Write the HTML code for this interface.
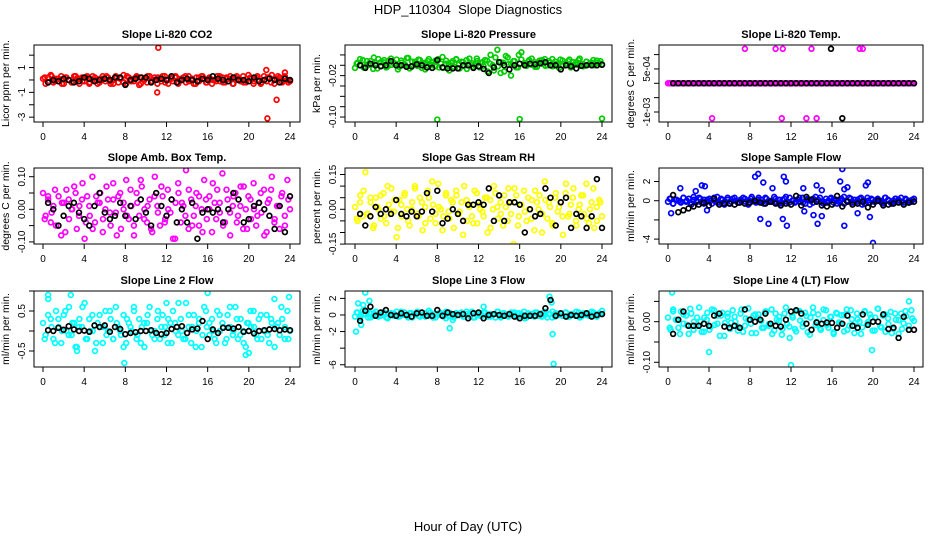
<!DOCTYPE html>
<html><head><meta charset="utf-8"><style>
html,body{margin:0;padding:0;background:#fff;}
svg{display:block;font-family:"Liberation Sans",Arial,sans-serif;}
</style></head><body>
<svg id="chart" width="936" height="540" viewBox="0 0 936 540" xmlns="http://www.w3.org/2000/svg">
<rect x="0" y="0" width="936" height="540" fill="#fff"/>
<text x="468" y="14" font-size="13" text-anchor="middle">HDP_110304&#160; Slope Diagnostics</text>
<text x="468" y="531" font-size="13" text-anchor="middle">Hour of Day (UTC)</text>
</svg>
<script>
// ---- data (hourly slopes) ----
const xTicks = [0,4,8,12,16,20,24];
const co2Color = [0.1,-0.3,0.2,0.4,-0.2,0.1,-0.1,0.3,-0.3,0.2,0,-0.2,0.3,0.1,-0.3,0.2,-0.1,0.3,-0.2,0,0.2,-0.3,0.1,0.3,-0.1,0.2,-0.3,0,0.3,-0.2,0.1,0.4,-0.3,0.2,-0.1,0.1,0.3,-0.4,0.2,0,-0.2,0.3,-0.1,0.2,-0.3,0.1,0.3,-0.2,0,0.2,-0.1,0.3,-0.3,0.1,0.2,-0.2,0.3,0,-0.3,0.2,-0.1,0.3,0.1,-0.2,0.2,-0.3,0,0.3,-0.1,0.2,-0.2,0.1,0.3,-0.3,0.2,0,-0.1,0.3,-0.2,0.4,0.1,-0.3,0.2,0,-0.2,0.3,-0.1,0.2,0.4,-0.3,0.1,0.2,-0.2,0.3,0,-0.1];
const co2Color2 = [0.2,-0.2,0.3,-0.1,0.1,-0.3,0.2,0,-0.2,0.3,0.1,-0.1,0.2,-0.3,0.3,0,-0.2,0.1,0.3,-0.1,-0.3,0.2,0.1,-0.2,0.3,0,-0.1,0.2,-0.3,0.1,0.3,-0.2,0,0.2,-0.1,0.3,-0.3,0.1,0.2,-0.2,0,0.3,-0.1,0.1,-0.3,0.2,0.3,-0.2,0.1,0,-0.1,0.3,-0.2,0.2,0.1,-0.3,0.3,0,-0.2,0.1,0.2,-0.1,0.3,-0.3,0,0.2,-0.2,0.1,0.3,-0.1,0.2,-0.2];
const co2OutHours = [11.2,11.1,21.8,22.7,21.7,23.5];
const co2OutValues = [2.6,-1.0,-3.1,-1.6,0.8,0.6];
const co2Black = [-0.2,0,-0.1,0.1,0,-0.2,-0.1,0.2,0.1,-0.1,0,0.1,0,0.2,0.2,-0.4,0,0.1,0.2,0.2,-0.2,0,0.1,0,0.3,-0.2,0,0.1,0,-0.1,0.1,0,0.3,0.1,0,-0.1,0.2,0,0,-0.1,0.2,-0.1,0,0.1,0,-0.2,0.1,0];
const co2Ticks = [2,1,0,-1,-2,-3];
const co2TickLabels = ["","1","","-1","","-3"];

const presColor = [-0.005,0.005,0,0.01,-0.002,0.002,0.008,-0.007,0.004,0.012,-0.001,0.006,-0.004,0.009,0.001,0.003,0.011,-0.003,0.005,0,0.014,-0.006,0.007,0.002,-0.001,0.01,0.004,-0.008,0.008,0.001,0.006,-0.002,0.012,0.003,-0.005,0.009,0,0.005,-0.003,0.011,0.002,0.007,-0.001,-0.007,0.013,0.004,0.001,0.008,-0.004,0.006,0.01,-0.012,0.003,0,0.015,-0.002,-0.015,0.005,0.018,0.002,-0.02,0.008,-0.004,0.02,0.025,0.004,-0.001,0.01,0.001,0.006,-0.003,0.009,0.003,0.012,0,0.005,-0.002,0.007,0.002,0.011,-0.001,0.004,0.008,-0.004,0.006,0.001,0.01,0.003,-0.001,0.007,0.002,0.005,0,0.009,0.004,0.002];
const presColor2 = [0.003,0.012,-0.004,0.008,0.001,0.015,-0.006,0.006,0.010,-0.002,0.013,0.004,-0.008,0.009,0.002,0.014,-0.003,0.007,0.011,-0.005,0.005,0.012,0,0.009,-0.004,0.016,0.003,-0.01,0.008,0.012,-0.006,0.006,0.01,0.002,-0.003,0.013,0.005,-0.002,0.009,0.02,-0.01,0.03,0.006,-0.012,0.015,0.003,0.008,-0.004,0.011,0.001,0.007,0.013,-0.003,0.005,0.01,-0.001,0.008,0.012,0.002,-0.005,0.009,0.004,0.011,0,0.006,0.013,-0.002,0.007,0.003,0.01,0.005,0.008];
const presOutHours = [8,16,24];
const presOutValues = [-0.105,-0.104,-0.103];
const presBlack = [0,-0.005,0.003,0,-0.002,0,0.008,0,0,-0.003,-0.002,0.002,0,-0.004,-0.005,0.01,-0.004,-0.006,-0.006,-0.006,0,0,-0.005,-0.002,-0.007,-0.015,-0.004,0.006,0,-0.008,0,0.003,0,0.003,0.002,0.004,0.006,0,0,-0.008,0,-0.002,-0.006,-0.001,0,0,0,0.001];
const presTicks = [0.02,0,-0.02,-0.04,-0.06,-0.08,-0.10];
const presTickLabels = ["","","-0.02","","","","-0.10"];

const tempColor = [0,0,0,0,0,0,0,0,0,0,0,0,0,0,0,0,0,0,0,0,0,0,0,0,0,0,0,0,0,0,0,0,0,0,0,0,0,0,0,0,0,0,0,0,0,0,0,0,0,0,0,0,0,0,0,0,0,0,0,0,0,0,0,0,0,0,0,0,0,0,0,0,0,0,0,0,0,0,0,0,0,0,0,0,0,0,0,0,0,0,0,0,0,0,0,0];
const tempColor2 = [0,0,0,0,0,0,0,0,0,0,0,0,0,0,0,0,0,0,0,0,0,0,0,0,0,0,0,0,0,0,0,0,0,0,0,0,0,0,0,0,0,0,0,0,0,0,0,0,0,0,0,0,0,0,0,0,0,0,0,0,0,0,0,0,0,0,0,0,0,0,0,0];
const tempOutHours = [7.5,10.5,11.2,14,18.7,19,4.3,11.1,13.5,14.5];
const tempOutValues = [0.0012,0.0012,0.0012,0.0012,0.0012,0.0012,-0.00122,-0.00122,-0.00122,-0.00122];
const tempBlack = [0,0,0,0,0,0,0,0,0,0,0,0,0,0,0,0,0,0,0,0,0,0,0,0,0,0,0,0,0,0,0,0,0,0,0,0,0,0,0,0,0,0,0,0,0,0,0,0];
const tempBlackOutHours = [15.9,17];
const tempBlackOutValues = [0.0012,-0.00122];
const tempTicks = [0.001,0.0005,0,-0.0005,-0.001];
const tempTickLabels = ["","5e-04","","","-1e-03"];

const ambColor = [0.05,-0.02,0.03,-0.04,0.01,-0.05,0.04,-0.08,0.02,0.06,-0.03,0,0.07,-0.06,0.01,0.03,-0.09,0.04,-0.02,0.1,-0.04,0.02,0.05,-0.07,0,0.03,-0.05,0.08,-0.01,0.04,-0.06,0.02,0.09,-0.03,0.01,-0.08,0.05,-0.02,0.07,0,-0.04,0.03,-0.07,0.1,0.01,-0.05,0.04,-0.03,0.06,-0.01,-0.09,0.02,0.08,-0.04,0.01,0.12,-0.06,0.03,-0.02,0.05,-0.05,0,0.09,-0.03,0.04,-0.07,0.02,0.06,-0.01,0.11,-0.04,0.03,-0.08,0.01,0.05,-0.02,0.07,-0.06,0,0.04,-0.03,0.08,-0.05,0.02,-0.01,0.06,-0.07,0.03,0.1,-0.04,0.01,-0.06,0.05,-0.02,0.09,0];
const ambColor2 = [-0.03,0.04,-0.01,0.06,-0.05,0.02,-0.07,0.03,0,0.05,-0.02,0.08,-0.04,0.01,-0.06,0.04,0.02,-0.03,0.07,-0.01,0.03,-0.08,0.05,0,-0.02,0.06,-0.05,0.02,0.09,-0.03,0.01,-0.06,0.04,-0.01,0.07,-0.04,0,0.03,-0.09,0.05,0.02,-0.02,0.06,-0.05,0.01,0.04,-0.07,0.03,0,0.08,-0.03,0.02,-0.05,0.06,-0.01,0.04,-0.04,0.01,0.07,-0.06,0.03,0,-0.02,0.05,-0.08,0.02,0.06,-0.03,0.01,0.04,-0.05,0.03];
const ambOutHours = [];
const ambOutValues = [];
const ambBlack = [0.02,0,-0.05,-0.02,0.01,0.02,-0.01,-0.03,-0.05,0.01,0.05,-0.01,-0.03,-0.02,0.02,-0.02,0.01,-0.03,0.03,-0.01,-0.05,0.05,0.01,-0.02,0.03,-0.04,0,-0.04,0.02,-0.09,-0.01,0,-0.01,0,-0.04,0,0.05,0.03,-0.04,-0.03,0.01,0.02,0,-0.02,-0.06,0.01,-0.07,0.04];
const ambTicks = [0.10,0.05,0,-0.05,-0.10];
const ambTickLabels = ["0.10","","0.00","","-0.10"];

const rhColor = [0.01,-0.05,0.06,-0.03,0.16,-0.02,0.03,-0.08,0.05,0,-0.04,0.07,-0.06,0.02,0.09,-0.01,-0.12,0.04,-0.03,0.06,0,-0.07,0.03,0.1,-0.02,0.05,-0.09,0.01,0.08,-0.04,0.02,-0.06,0.11,0,-0.03,0.07,-0.01,0.04,-0.08,0.06,-0.02,0.03,0.1,-0.05,0.01,-0.03,0.08,-0.06,0.02,-0.01,0.05,-0.1,0.04,0,0.07,-0.04,0.03,-0.07,0.01,0.09,-0.02,-0.15,0.06,-0.03,0.02,0.08,-0.05,0,0.04,-0.09,0.03,0.06,-0.02,0.12,-0.04,0.01,-0.07,0.05,-0.01,0.03,-0.11,0.07,-0.03,0.02,0.09,-0.05,0,0.06,-0.02,0.11,-0.06,0.03,-0.08,0.01,0.04,-0.03];
const rhColor2 = [-0.04,0.03,0.08,-0.02,0.05,-0.07,0.01,0.06,-0.03,0.1,-0.01,0.04,-0.08,0.02,0.07,-0.05,0,0.09,-0.03,0.03,-0.06,0.05,0.12,-0.02,0.01,-0.09,0.06,-0.04,0.03,0.08,-0.01,-0.11,0.04,0.02,-0.06,0.07,0,-0.03,0.05,-0.08,0.1,0.01,-0.02,0.06,-0.05,0.03,0.09,-0.07,0.02,-0.01,0.05,-0.04,0.08,0,-0.1,0.04,0.03,-0.06,0.07,0.01,-0.03,0.11,-0.02,0.05,-0.07,0.02,0.06,-0.04,0,0.09,-0.05,0.03];
const rhOutHours = [];
const rhOutValues = [];
const rhBlack = [-0.02,-0.07,-0.03,0.01,-0.02,0,-0.02,0.04,-0.02,-0.03,-0.01,-0.03,-0.01,0.07,-0.01,0.08,-0.06,-0.04,0,-0.02,-0.05,0.02,0.02,0.03,0.02,0.09,-0.05,0.06,-0.05,0.03,0.03,0.02,-0.1,0,-0.03,-0.02,0.09,0.05,-0.07,0.03,0.05,-0.08,-0.02,-0.03,-0.08,-0.03,0.13,-0.08];
const rhTicks = [0.15,0.10,0.05,0,-0.05,-0.10,-0.15];
const rhTickLabels = ["0.15","","","0.00","","","-0.15"];

const flowColor = [-0.1,0.2,-0.3,0.1,0,-0.2,0.3,-0.1,0.2,-0.4,0.1,0,0.3,-0.2,0.1,-0.1,0.2,-0.3,0,0.4,-0.2,0.1,-0.1,0.3,-0.3,0.2,0,-0.2,0.1,0.3,-0.1,-0.4,0.2,0,-0.2,0.3,0.1,-0.3,0.2,-0.1,0,0.4,-0.2,0.1,-0.3,0.2,-0.1,0.3,0,-0.2,0.1,-0.1,0.3,-0.3,0.2,0,-0.2,0.4,0.1,-0.1,-0.3,0.2,0,0.3,-0.2,0.1,-0.1,0.2,-0.3,0,0.3,-0.2,0.1,-0.1,0.2,-0.4,0,0.3,-0.2,0.1,-0.1,0.2,0,-0.3,0.3,0.1,-0.2,0,0.2,-0.1,0.3,-0.2,0.1,0,-0.1,0.2];
const flowColor2 = [0.2,-0.3,0.1,-0.1,0.3,0,-0.2,0.4,-0.1,0.2,-0.3,0.1,0,0.3,-0.2,0.2,-0.4,0.1,-0.1,0.3,-0.2,0,0.2,-0.3,0.4,-0.1,0.1,-0.2,0.3,0,-0.1,0.2,-0.3,0.1,0.4,-0.2,0,-0.1,0.3,-0.2,0.1,-0.4,0.2,0,0.3,-0.1,-0.2,0.2,0.1,-0.3,0,0.4,-0.1,0.2,-0.2,0.1,0.3,-0.3,0,0.2,-0.1,0.1,-0.2,0.3,0,-0.3,0.2,0.1,-0.1,0.2,-0.2,0.1];
const flowOutHours = [0.3,1.2,2.7,3.3,3.6,3.8,8.5,8.8,9.0,9.3,9.8,10.2,11.3,11.5,11.6,11.2,13.2,13.3,14.5,14.6,14.2,15.0,15.0,16.8,17.0,17.2,17.2,17.5,19.3,19.5,19.7,20.0,18.5];
const flowOutValues = [-1.3,1.3,1.0,1.6,1.5,-1.0,2.5,2.8,-1.9,1.9,-2.4,1.3,2.5,2.0,-2.6,-1.9,1.3,-1.1,1.6,-2.4,-1.5,1.1,-1.6,2.0,3.3,-2.6,1.2,1.4,1.6,1.9,-1.7,-4.4,-1.3];
const flowBlack = [0.6,-1.2,-1.0,-0.8,-0.6,-0.4,-0.2,-0.5,0.2,-0.4,-0.3,-0.3,-0.4,-0.2,-0.3,-0.2,0,-0.2,-0.3,-0.1,-0.3,-0.5,-0.3,-0.4,0.5,-0.5,0.4,0.1,-0.1,-0.5,-0.6,-0.4,0.5,-0.6,-0.1,-0.4,-0.3,-0.1,-0.7,-0.4,0,-0.5,-0.4,-0.3,-0.2,-0.4,-0.2,-0.1];
const flowTicks = [2,0,-2,-4];
const flowTickLabels = ["2","0","","-4"];

const l2Color = [0.2,-0.1,0.8,0.3,-0.2,0.5,0.1,-0.3,0.4,0,0.6,-0.1,0.2,-0.4,0.3,0.1,0.7,-0.2,0,0.4,-0.5,0.2,0.1,-0.3,0.5,0,0.3,-0.2,0.6,0.1,-0.1,0.4,-0.3,0.2,0,0.5,-0.2,0.3,0.1,-0.4,0.2,0.6,-0.1,0,0.3,-0.2,0.4,0.1,-0.3,0.2,0.5,0,-0.1,0.3,-0.2,0.7,0.1,-0.3,0.4,0,0.2,-0.4,0.6,0.1,-0.1,0.3,-0.2,0.5,0,0.2,-0.3,0.4,0.1,-0.1,0.6,-0.2,0.3,0,-0.4,0.2,0.1,0.5,-0.1,0.3,-0.2,0,0.4,-0.3,0.2,0.8,0.1,-0.1,0.3,-0.2,0.5,0];
const l2Color2 = [-0.2,0.4,0.1,-0.3,0.3,0,0.5,-0.1,0.2,-0.4,0.1,0.6,-0.2,0.3,0,-0.3,0.4,0.1,-0.1,0.5,-0.2,0.2,0,-0.4,0.3,0.1,0.6,-0.1,-0.3,0.2,0.4,0,-0.2,0.5,0.1,-0.1,0.3,-0.3,0.2,0.7,0,-0.2,0.4,0.1,-0.4,0.3,-0.1,0.5,0.2,0,-0.3,0.4,0.1,-0.2,0.6,0,0.3,-0.1,-0.3,0.2,0.5,0.1,-0.2,0.4,0,-0.1,0.3,-0.4,0.2,0.6,0.1,-0.2];
const l2OutHours = [0.5,2.7,3.3,7.9,16,19.7,20,12,23.9];
const l2OutValues = [0.9,0.9,-0.5,-0.8,0.95,-0.6,-0.55,0.7,0.85];
const l2Black = [0.02,0,0.08,0.03,0.12,0.04,0,0.01,-0.02,0.14,0.1,0.14,-0.02,0.1,0.05,-0.08,-0.05,-0.03,0,0,0.02,-0.05,-0.08,-0.05,0.05,0.1,0.12,-0.05,0.04,0.06,0.25,-0.2,0.04,-0.05,0.08,0.08,0.06,0.1,-0.02,0,-0.06,0,0.02,0.04,0.05,0.02,0.04,0.02];
const l2Ticks = [1.0,0.5,0,-0.5];
const l2TickLabels = ["","0.5","","-0.5"];

const l3Color = [-0.2,0.3,-0.4,0.5,0.1,-0.3,0.2,-0.1,0.4,-0.2,0,0.3,-0.3,0.1,0.2,-0.1,0.4,-0.2,0,0.3,-0.1,0.2,-0.3,0.1,0.4,-0.2,0,0.2,-0.1,0.3,-0.3,0.1,0,0.2,-0.2,0.4,-0.1,0.1,-0.3,0.2,0,0.3,-0.2,0.1,-0.1,0.4,-0.3,0,0.2,-0.1,0.3,-0.2,0.1,0,-0.3,0.4,-0.1,0.2,0,-0.2,0.3,0.1,-0.2,0.2,-0.1,0.4,-0.3,0,0.1,-0.2,0.3,-0.1,0.2,0,-0.3,0.1,0.4,-0.2,0,0.2,-0.1,0.3,-0.2,0.1,0,-0.1,0.3,-0.2,0.2,0,-0.1,0.4,0.1,-0.2,0.2,0.5];
const l3Color2 = [0.3,-0.2,0.1,0.4,-0.3,0.2,0,-0.1,0.3,-0.4,0.2,0.1,-0.2,0.4,0,-0.3,0.2,0.1,-0.1,0.3,-0.2,0.5,0,-0.3,0.2,0.1,-0.4,0.3,-0.1,0.2,0,-0.2,0.4,0.1,-0.3,0.2,-0.1,0.3,0,-0.2,0.1,0.4,-0.3,0.2,-0.1,0,0.3,-0.2,0.1,-0.4,0.2,0,0.3,-0.1,-0.2,0.4,0.1,-0.3,0.2,0,-0.1,0.3,-0.2,0.1,0.4,-0.3,0,0.2,-0.1,0.3,-0.2,0.1];
const l3OutHours = [0.1,0.3,0.6,1.0,1.4,0.8,9.2,12.5,18.9,19.1,19.2,19.3,9.5];
const l3OutValues = [-2,1.4,-1.2,2.7,1.7,1.2,-1.6,1.0,2.2,1.5,-2.3,-5.9,-0.6];
const l3Black = [-0.7,0.5,1.0,-0.1,0.3,0.6,0,-0.1,0.2,0,-0.2,0.2,0.3,-0.1,-0.1,0.6,-0.1,0.3,0.1,0,0.1,-0.4,0.2,0.3,-0.4,0,0.1,0,-0.1,0.1,-0.2,-0.4,-0.1,-0.1,-0.1,0.1,0.8,1.8,-0.1,0.2,-0.2,0,-0.1,0,0.2,-0.2,0,0.1];
const l3Ticks = [2,0,-2,-4,-6];
const l3TickLabels = ["2","0","-2","","-6"];

const l4Color = [0.01,-0.02,0.03,0.005,-0.015,0.025,-0.005,0.015,-0.03,0.02,0,-0.01,0.035,-0.025,0.01,0.005,-0.02,0.03,-0.008,0.015,-0.035,0.022,-0.003,0.012,-0.018,0.028,0,-0.012,0.02,-0.025,0.008,0.033,-0.005,0.015,-0.028,0.018,0.002,-0.015,0.025,-0.01,0.03,-0.022,0.005,0.012,-0.032,0.02,-0.006,-0.04,0.015,-0.018,0.027,0.003,-0.012,0.022,-0.026,0.01,0.035,-0.008,0.018,-0.02,0.004,0.028,-0.015,0.012,-0.03,0.022,-0.002,0.016,-0.024,0.03,-0.01,0.006,-0.028,0.02,0,-0.014,0.026,-0.006,0.018,-0.022,0.01,0.032,-0.012,0.015,-0.025,0.008,0.024,-0.018,0.005,-0.03,0.02,-0.004,0.014,-0.02,0.028,0.002];
const l4Color2 = [-0.015,0.025,0.005,-0.03,0.018,-0.008,0.032,-0.02,0.01,0,-0.025,0.022,-0.012,0.028,-0.005,0.015,-0.035,0.02,-0.002,0.012,-0.022,0.03,-0.01,0.005,-0.028,0.018,0.008,-0.015,0.025,-0.006,-0.03,0.02,0.002,-0.018,0.035,-0.012,0.01,-0.024,0.026,-0.004,0.014,-0.032,0.022,0,-0.016,0.03,-0.008,0.012,-0.026,0.02,-0.003,0.016,-0.02,0.028,-0.01,0.006,-0.03,0.024,-0.001,0.01,-0.022,0.032,-0.014,0.018,-0.006,-0.028,0.02,0.004,-0.018,0.026,-0.01,0.008];
const l4OutHours = [0.4,4,12,19.9,23.5];
const l4OutValues = [0.072,-0.075,-0.107,-0.07,0.05];
const l4Black = [-0.03,0.005,0.025,-0.01,-0.01,-0.01,-0.005,-0.01,0.015,0.02,-0.012,-0.015,-0.01,-0.015,0.03,0.005,0,0.005,0.02,-0.005,-0.01,-0.012,0.005,0.025,0.028,0.02,-0.005,-0.02,-0.002,-0.005,-0.002,-0.003,-0.015,-0.005,0.015,-0.01,-0.015,0.018,-0.008,0,0,0.018,-0.018,-0.015,-0.04,0.012,-0.02,-0.02];
const l4Ticks = [0.05,0,-0.05,-0.10];
const l4TickLabels = ["","0.00","","-0.10"];

// ---- layout ----
const cols = [{l:34,r:300,x0:43,x24:290},{l:345,r:612,x0:355,x24:602},{l:659,r:923,x0:668,x24:914}];
const rows = [{t:45,b:122},{t:168,b:244},{t:291,b:367}];
const panels = [
 {name:"co2",title:"Slope Li-820 CO2",ylab:"Licor ppm per min.",color:"#ff0000",c:co2Color,c2:co2Color2,oh:co2OutHours,ov:co2OutValues,k:co2Black,bh:[],bv:[],ticks:co2Ticks,labels:co2TickLabels,lo:-3.39,hi:2.82},
 {name:"pressure",title:"Slope Li-820 Pressure",ylab:"kPa per min.",color:"#00cd00",c:presColor,c2:presColor2,oh:presOutHours,ov:presOutValues,k:presBlack,bh:[],bv:[],ticks:presTicks,labels:presTickLabels,lo:-0.1096,hi:0.0392},
 {name:"temp",title:"Slope Li-820 Temp.",ylab:"degrees C per min.",color:"#ff00ff",c:tempColor,c2:tempColor2,oh:tempOutHours,ov:tempOutValues,k:tempBlack,bh:tempBlackOutHours,bv:tempBlackOutValues,ticks:tempTicks,labels:tempTickLabels,lo:-0.001348,hi:0.001334},
 {name:"amb-box-temp",title:"Slope Amb. Box Temp.",ylab:"degrees C per min.",color:"#ff00ff",c:ambColor,c2:ambColor2,oh:ambOutHours,ov:ambOutValues,k:ambBlack,bh:[],bv:[],ticks:ambTicks,labels:ambTickLabels,lo:-0.1064,hi:0.1267},
 {name:"gas-rh",title:"Slope Gas Stream RH",ylab:"percent per min.",color:"#ffff00",c:rhColor,c2:rhColor2,oh:rhOutHours,ov:rhOutValues,k:rhBlack,bh:[],bv:[],ticks:rhTicks,labels:rhTickLabels,lo:-0.1496,hi:0.178},
 {name:"sample-flow",title:"Slope Sample Flow",ylab:"ml/min per min.",color:"#0000ff",c:flowColor,c2:flowColor2,oh:flowOutHours,ov:flowOutValues,k:flowBlack,bh:[],bv:[],ticks:flowTicks,labels:flowTickLabels,lo:-4.51,hi:3.41},
 {name:"line2-flow",title:"Slope Line 2 Flow",ylab:"ml/min per min.",color:"#00ffff",c:l2Color,c2:l2Color2,oh:l2OutHours,ov:l2OutValues,k:l2Black,bh:[],bv:[],ticks:l2Ticks,labels:l2TickLabels,lo:-0.9,hi:1.0},
 {name:"line3-flow",title:"Slope Line 3 Flow",ylab:"ml/min per min.",color:"#00ffff",c:l3Color,c2:l3Color2,oh:l3OutHours,ov:l3OutValues,k:l3Black,bh:[],bv:[],ticks:l3Ticks,labels:l3TickLabels,lo:-6.27,hi:2.89},
 {name:"line4-flow",title:"Slope Line 4 (LT) Flow",ylab:"ml/min per min.",color:"#00ffff",c:l4Color,c2:l4Color2,oh:l4OutHours,ov:l4OutValues,k:l4Black,bh:[],bv:[],ticks:l4Ticks,labels:l4TickLabels,lo:-0.1116,hi:0.0756}
];

const NS = "http://www.w3.org/2000/svg";
const svg = document.getElementById("chart");
function mk(tag, attrs, parent) {
  const e = document.createElementNS(NS, tag);
  for (const k in attrs) e.setAttribute(k, attrs[k]);
  (parent || svg).appendChild(e);
  return e;
}
function dot(g, x, y, color, nm) {
  const c = mk("circle", {cx:x.toFixed(1), cy:y.toFixed(1), r:2.4, fill:"none", stroke:color, "stroke-width":1.7}, g);
  
  
}

panels.forEach((p, i) => {
  const col = cols[i % 3], row = rows[Math.floor(i / 3)];
  const xs = h => col.x0 + (h / 24) * (col.x24 - col.x0);
  const ys = v => row.b - (v - p.lo) / (p.hi - p.lo) * (row.b - row.t);
  const g = mk("g", {});
  
  
  const cx = (col.l + col.r) / 2;
  const t = mk("text", {x:cx, y:row.t - 7, "font-size":11, "font-weight":"bold", "text-anchor":"middle"}, g);
  t.textContent = p.title;
  
  
  const yl = mk("text", {x:0, y:0, "font-size":10.5, "text-anchor":"middle", transform:`translate(${col.l - 25},${(row.t + row.b) / 2}) rotate(-90)`}, g);
  yl.textContent = p.ylab;
  
  
  const cid = "clip" + i;
  const cp = mk("clipPath", {id:cid}, g);
  mk("rect", {x:col.l, y:row.t, width:col.r - col.l, height:row.b - row.t}, cp);
  const pts = mk("g", {"clip-path":`url(#${cid})`}, g);
  
  
  const n = p.c.length;
  p.c.forEach((v, j) => dot(pts, xs(j * 24 / (n - 1)), ys(v), p.color, 'series-point'));
  const n2 = p.c2.length;
  p.c2.forEach((v, j) => dot(pts, xs((j + 0.5) * 24 / n2), ys(v), p.color, 'series-point'));
  p.oh.forEach((h, j) => dot(pts, xs(h), ys(p.ov[j]), p.color, 'outlier-point'));
  p.k.forEach((v, j) => dot(pts, xs(0.5 + j * 0.5), ys(v), "#000", 'hourly-point'));
  p.bh.forEach((h, j) => dot(pts, xs(h), ys(p.bv[j]), "#000", 'hourly-outlier'));
  const box = mk("rect", {x:col.l, y:row.t, width:col.r - col.l, height:row.b - row.t, fill:"none", stroke:"#000", "stroke-width":1}, g);
  
  
  mk("line", {x1:xs(xTicks[0]), x2:xs(xTicks[xTicks.length - 1]), y1:row.b, y2:row.b, stroke:"#000"}, g);
  xTicks.forEach(h => {
    mk("line", {x1:xs(h), x2:xs(h), y1:row.b, y2:row.b + 5, stroke:"#000"}, g);
    const tl = mk("text", {x:xs(h), y:row.b + 18, "font-size":10, "text-anchor":"middle"}, g);
    tl.textContent = h;
    
    
  });
  mk("line", {x1:col.l, x2:col.l, y1:ys(p.ticks[0]), y2:ys(p.ticks[p.ticks.length - 1]), stroke:"#000"}, g);
  p.ticks.forEach((v, j) => {
    const y = ys(v);
    mk("line", {x1:col.l - 5, x2:col.l, y1:y, y2:y, stroke:"#000"}, g);
    if (p.labels[j]) {
      const tl = mk("text", {x:0, y:0, "font-size":10, "text-anchor":"middle", transform:`translate(${col.l - 9},${y}) rotate(-90)`}, g);
      tl.textContent = p.labels[j];
      
      
    }
  });
});
</script>
</body></html>
